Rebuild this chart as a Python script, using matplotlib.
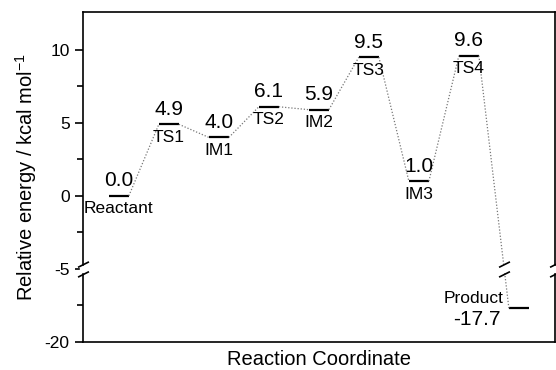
import numpy as np
import matplotlib
matplotlib.use("Agg")
import matplotlib.pyplot as plt
from matplotlib.path import Path

plt.rcParams['font.family'] = ['Liberation Sans', 'DejaVu Sans']

# energy profile data
species = ['Reactant', 'TS1', 'IM1', 'TS2', 'IM2', 'TS3', 'IM3', 'TS4', 'Product']
energies = [0.0, 4.9, 4.0, 6.1, 5.9, 9.5, 1.0, 9.6, -17.7]
positions = [1, 2, 3, 4, 5, 6, 7, 8, 9]

ytick_major = [10, 5, 0, -5, -20]
ytick_minor = [7.5, 2.5, -2.5, -17.5]

# broken axis: hide the span -15..-5
def fwd(y):
    y = np.asarray(y, dtype=float)
    return np.where(y >= -5, y, np.where(y <= -15, y + 10, -5))

def inv(m):
    m = np.asarray(m, dtype=float)
    return np.where(m >= -5, m, m - 10)

fig = plt.figure(figsize=(5.56, 3.70), dpi=100)
ax = fig.add_axes([0.149, 0.076, 0.849, 0.892])
ax.set_yscale('function', functions=(fwd, inv))

half = 0.2
# levels
for x, e in zip(positions, energies):
    ax.plot([x - half, x + half], [e, e], color='black', lw=1.6, solid_capstyle='butt')

# dotted connectors
for i in range(len(positions) - 1):
    ax.plot([positions[i] + half, positions[i + 1] - half], [energies[i], energies[i + 1]],
            color='#777777', lw=0.9, linestyle=(0, (1, 1.5)))

# labels
for x, e, name in zip(positions[:-1], energies[:-1], species[:-1]):
    ax.annotate(f'{e:.1f}', (x, e), xytext=(0, 4), textcoords='offset points',
                ha='center', va='bottom', fontsize=15)
    ax.annotate(name, (x, e), xytext=(0, -4), textcoords='offset points',
                ha='center', va='top', fontsize=12.5)
ax.annotate(species[-1], (positions[-1] - 0.3, energies[-1]), xytext=(0, 2),
            textcoords='offset points', ha='right', va='bottom', fontsize=12.5)
ax.annotate(f'{energies[-1]:.1f}', (positions[-1] - 0.36, energies[-1]), xytext=(0, -1),
            textcoords='offset points', ha='right', va='top', fontsize=15)

ax.set_xlim(0.28, 9.72)
ax.set_ylim(-20, 12.6)
ax.set_xticks([])
ax.set_yticks(ytick_major)
ax.set_yticklabels([str(t) for t in ytick_major])
ax.set_yticks(ytick_minor, minor=True)
ax.tick_params(axis='y', which='major', direction='out', length=6, width=1.2, labelsize=12.5)
ax.tick_params(axis='y', which='minor', direction='out', length=4, width=1.2)
for s in ax.spines.values():
    s.set_linewidth(1.2)

ax.set_ylabel('Relative energy / kcal mol$^{\\mathregular{-1}}$', fontsize=14.5, labelpad=4)
ax.set_xlabel('Reaction Coordinate', fontsize=14.5, labelpad=6)

# break marks
slash = Path([(-1, -1.4), (1, -0.4), (-1, 0.4), (1, 1.4)],
             [Path.MOVETO, Path.LINETO, Path.MOVETO, Path.LINETO])
ybreak = -5.4
tr = ax.get_yaxis_transform()
ax.plot([0, 1], [ybreak, ybreak], transform=tr, marker='s', ms=5, mfc='white', mec='white',
        ls='none', clip_on=False, zorder=5)
ax.plot([0, 1], [ybreak, ybreak], transform=tr, marker=slash, ms=11, mec='black', mew=1.2,
        ls='none', clip_on=False, zorder=6)
# break on the TS4 -> Product connector
x0, x1 = positions[-2] + half, positions[-1] - half
m0, m1 = float(fwd(energies[-2])), float(fwd(energies[-1]))
mb = float(fwd(ybreak))
xb = x0 + (x1 - x0) * (m0 - mb) / (m0 - m1)
ax.plot([xb], [ybreak], marker='s', ms=5, mfc='white', mec='white', ls='none', zorder=5)
ax.plot([xb], [ybreak], marker=slash, ms=11, mec='black', mew=1.2, ls='none', zorder=6)

fig.savefig('out.png', dpi=100)
